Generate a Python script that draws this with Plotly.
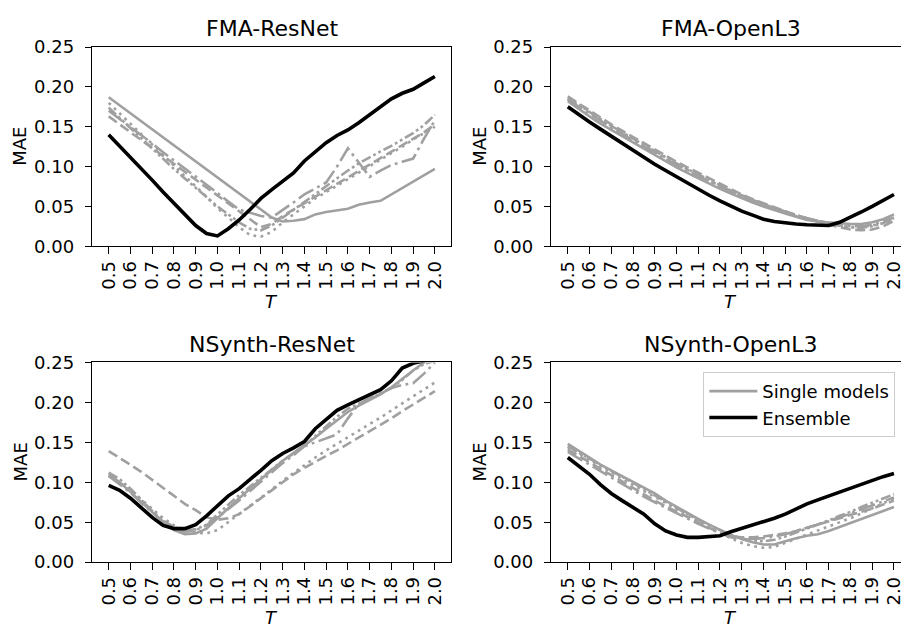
import plotly.graph_objects as go

# ---------------- data ----------------
T = [0.5, 0.55, 0.6, 0.65, 0.7, 0.75, 0.8, 0.85, 0.9, 0.95, 1.0, 1.05, 1.1, 1.15, 1.2, 1.25,
     1.3, 1.35, 1.4, 1.45, 1.5, 1.55, 1.6, 1.65, 1.7, 1.75, 1.8, 1.85, 1.9, 1.95, 2.0]
x_ticks = [0.5, 0.6, 0.7, 0.8, 0.9, 1.0, 1.1, 1.2, 1.3, 1.4, 1.5, 1.6, 1.7, 1.8, 1.9, 2.0]
x_ticktext = ["0.5", "0.6", "0.7", "0.8", "0.9", "1.0", "1.1", "1.2", "1.3", "1.4", "1.5",
              "1.6", "1.7", "1.8", "1.9", "2.0"]
y_ticks = [0.0, 0.05, 0.10, 0.15, 0.20, 0.25]
panel_titles = ["FMA-ResNet", "FMA-OpenL3", "NSynth-ResNet", "NSynth-OpenL3"]

# FMA-ResNet
fma_resnet_ensemble = [.140, .126, .111, .097, .083, .068, .054, .040, .026, .016, .013, .022, .033, .046, .060, .071,
                       .081, .092, .107, .118, .130, .139, .146, .155, .165, .174, .185, .192, .197, .205, .213]
fma_resnet_m1 = [.187, .177, .167, .157, .147, .137, .127, .117, .107, .097, .087, .077, .066, .056, .046, .036,
                 .031, .032, .034, .040, .043, .045, .047, .052, .055, .057, .065, .074, .082, .090, .097]
fma_resnet_m2 = [.163, .153, .143, .133, .123, .113, .103, .093, .083, .073, .063, .053, .043, .033, .024, .028,
                 .038, .046, .054, .062, .070, .078, .086, .094, .102, .110, .118, .126, .134, .143, .153]
fma_resnet_m3 = [.180, .167, .154, .141, .127, .114, .101, .088, .075, .062, .048, .036, .024, .014, .012, .018,
                 .030, .040, .050, .060, .068, .076, .084, .092, .100, .108, .116, .125, .134, .142, .150]
fma_resnet_m4 = [.170, .160, .149, .139, .129, .118, .108, .098, .087, .077, .067, .056, .046, .042, .038, .036,
                 .045, .055, .065, .072, .080, .100, .123, .105, .087, .095, .102, .106, .110, .135, .158]
fma_resnet_m5 = [.174, .161, .148, .135, .122, .109, .097, .085, .073, .061, .050, .040, .030, .022, .020, .026,
                 .036, .046, .056, .066, .075, .085, .095, .104, .112, .119, .126, .134, .142, .152, .165]

# FMA-OpenL3
fma_openl3_ensemble = [.175, .165, .156, .147, .138, .129, .120, .111, .103, .095, .087, .079, .071, .064, .057, .050,
                       .044, .039, .034, .031, .029, .028, .027, .026, .026, .030, .036, .043, .050, .057, .065]
fma_openl3_m1 = [.182, .172, .163, .154, .146, .138, .130, .122, .114, .106, .099, .092, .085, .078, .072, .066,
                 .060, .055, .050, .045, .041, .037, .033, .031, .030, .029, .028, .028, .030, .034, .040]
fma_openl3_m2 = [.188, .179, .170, .161, .153, .145, .137, .129, .121, .113, .106, .099, .092, .085, .078, .071,
                 .065, .059, .054, .049, .044, .039, .035, .031, .027, .024, .021, .020, .021, .025, .032]
fma_openl3_m3 = [.185, .176, .167, .158, .150, .142, .134, .126, .118, .110, .103, .096, .089, .082, .075, .069,
                 .063, .057, .052, .047, .042, .038, .034, .031, .028, .026, .024, .024, .026, .029, .035]
fma_openl3_m4 = [.184, .175, .166, .157, .149, .141, .133, .125, .117, .109, .102, .095, .088, .081, .075, .069,
                 .063, .058, .053, .048, .043, .039, .035, .032, .029, .027, .025, .025, .027, .031, .036]
fma_openl3_m5 = [.186, .177, .168, .159, .151, .143, .135, .127, .119, .111, .104, .097, .090, .083, .077, .070,
                 .064, .058, .053, .048, .043, .039, .035, .032, .029, .026, .024, .023, .025, .029, .034]

# NSynth-ResNet
nsynth_resnet_ensemble = [.096, .090, .080, .068, .056, .046, .042, .042, .047, .058, .070, .083, .092, .103, .115, .127,
                          .136, .143, .151, .167, .178, .190, .197, .203, .209, .216, .227, .243, .249, .252, .258]
nsynth_resnet_m1 = [.110, .100, .088, .075, .062, .050, .040, .035, .036, .042, .055, .068, .080, .092, .104, .116,
                    .127, .137, .146, .156, .167, .178, .188, .196, .203, .210, .219, .230, .240, .250, .258]
nsynth_resnet_m2 = [.139, .131, .122, .113, .103, .093, .083, .073, .065, .056, .053, .055, .060, .070, .080, .090,
                    .101, .110, .118, .126, .133, .140, .148, .155, .163, .172, .180, .189, .197, .205, .214]
nsynth_resnet_m3 = [.108, .100, .090, .078, .066, .055, .046, .040, .037, .036, .040, .050, .060, .070, .080, .091,
                    .102, .112, .122, .131, .140, .148, .156, .164, .172, .181, .190, .199, .207, .216, .225]
nsynth_resnet_m4 = [.108, .098, .087, .074, .062, .051, .042, .038, .040, .046, .056, .066, .077, .089, .101, .113,
                    .124, .134, .145, .150, .155, .160, .180, .198, .205, .212, .218, .222, .224, .236, .250]
nsynth_resnet_m5 = [.112, .104, .092, .078, .064, .052, .044, .040, .041, .047, .060, .072, .084, .095, .106, .117,
                    .127, .136, .145, .158, .170, .182, .192, .199, .205, .211, .218, .228, .240, .248, .252]

# NSynth-OpenL3
nsynth_openl3_ensemble = [.131, .121, .110, .097, .086, .077, .069, .060, .048, .039, .034, .031, .031, .032, .033, .038,
                          .042, .046, .050, .055, .060, .067, .073, .078, .083, .088, .093, .098, .102, .107, .111]
nsynth_openl3_m1 = [.148, .140, .131, .122, .115, .108, .100, .093, .086, .077, .069, .061, .054, .047, .040, .034,
                    .029, .025, .022, .022, .026, .030, .033, .035, .039, .044, .049, .054, .059, .064, .069]
nsynth_openl3_m2 = [.141, .133, .124, .116, .108, .100, .092, .085, .077, .070, .063, .056, .049, .043, .037, .032,
                    .031, .031, .032, .034, .036, .039, .043, .047, .051, .055, .059, .063, .067, .072, .077]
nsynth_openl3_m3 = [.144, .136, .128, .120, .112, .105, .097, .089, .082, .074, .066, .058, .050, .043, .036, .030,
                    .024, .020, .018, .019, .024, .029, .034, .039, .044, .050, .055, .061, .067, .073, .080]
nsynth_openl3_m4 = [.138, .130, .121, .113, .105, .097, .089, .082, .075, .068, .061, .054, .048, .042, .036, .031,
                    .029, .029, .030, .032, .035, .039, .043, .047, .052, .056, .061, .066, .071, .076, .081]
nsynth_openl3_m5 = [.145, .137, .129, .121, .114, .107, .099, .092, .084, .076, .068, .060, .053, .046, .040, .034,
                    .030, .027, .026, .028, .032, .037, .042, .047, .052, .058, .063, .069, .074, .079, .085]

panels = [
    ([fma_resnet_m1, fma_resnet_m2, fma_resnet_m3, fma_resnet_m4, fma_resnet_m5], fma_resnet_ensemble),
    ([fma_openl3_m1, fma_openl3_m2, fma_openl3_m3, fma_openl3_m4, fma_openl3_m5], fma_openl3_ensemble),
    ([nsynth_resnet_m1, nsynth_resnet_m2, nsynth_resnet_m3, nsynth_resnet_m4, nsynth_resnet_m5], nsynth_resnet_ensemble),
    ([nsynth_openl3_m1, nsynth_openl3_m2, nsynth_openl3_m3, nsynth_openl3_m4, nsynth_openl3_m5], nsynth_openl3_ensemble),
]

# ---------------- style / layout ----------------
W, H = 904, 634
GREY = "#a0a0a0"
FONT = "DejaVu Sans"
dashes = ["solid", "10px,4.5px", "2.8px,4.5px", "17px,4.5px,2.8px,4.5px", "10px,3px,2.8px,3px,2.8px,3px"]

# pixel geometry of the axes boxes (left, right, top, bottom)
left_col = (92.7, 452.7)
right_col = (553.3, 913.0)      # right edge lies beyond the picture
top_row = (37.3, 243.3)
bot_row = (363.5, 570.0)
px_per_T = (left_col[1] - left_col[0]) / 1.65

boxes = [(left_col, top_row), (right_col, top_row), (left_col, bot_row), (right_col, bot_row)]

fig = go.Figure()
layout = dict(
    width=W, height=H, margin=dict(l=0, r=0, t=0, b=0, pad=0),
    plot_bgcolor="white", paper_bgcolor="white",
    font=dict(family=FONT, size=18, color="black"),
    showlegend=True,
)
annotations = []

for i, ((cx, cy), (singles, ens)) in enumerate(zip(boxes, panels)):
    n = "" if i == 0 else str(i + 1)
    xa, ya = "x" + n, "y" + n
    x0 = cx[0] / W
    x1 = min(cx[1], W) / W
    xmax = 0.425 + (min(cx[1], W) - cx[0]) / px_per_T
    clipped = cx[1] > W
    layout["xaxis" + n] = dict(
        domain=[x0, x1], range=[0.425, xmax], anchor=ya,
        tickmode="array", tickvals=x_ticks, ticktext=x_ticktext, tickangle=-90,
        ticks="outside", ticklen=6.4, tickwidth=1.4, tickcolor="black",
        showline=True, linecolor="black", linewidth=1.4, mirror=True,
        showgrid=False, zeroline=False, tickfont=dict(size=18),
        ticklabelstandoff=0, ticklabeloverflow="allow",
    )
    layout["yaxis" + n] = dict(
        domain=[1 - cy[1] / H, 1 - cy[0] / H], range=[0, 0.25], anchor=xa,
        tickmode="array", tickvals=y_ticks, tickformat=".2f",
        ticks="outside", ticklen=6.4, tickwidth=1.4, tickcolor="black",
        showline=True, linecolor="black", linewidth=1.4, mirror=(not clipped),
        showgrid=False, zeroline=False, tickfont=dict(size=18),
        ticklabelstandoff=7,
    )
    for j, s in enumerate(singles):
        fig.add_trace(go.Scatter(
            x=T, y=s, xaxis=xa, yaxis=ya, mode="lines",
            line=dict(color=GREY, width=2.6, dash=dashes[j]),
            name="Single models", legendgroup="single",
            showlegend=(i == 0 and j == 0), hoverinfo="skip"))
    fig.add_trace(go.Scatter(
        x=T, y=ens, xaxis=xa, yaxis=ya, mode="lines",
        line=dict(color="black", width=3.6),
        name="Ensemble", legendgroup="ens",
        showlegend=(i == 0), hoverinfo="skip"))

    xc = (cx[0] + cx[1]) / 2 / W
    annotations.append(dict(
        text=panel_titles[i], x=xc, y=1 - (cy[0] - 19) / H, xref="paper", yref="paper",
        xanchor="center", yanchor="middle", showarrow=False,
        font=dict(size=22)))
    annotations.append(dict(
        text="<i>T</i>", x=xc, y=1 - (cy[1] + 57) / H, xref="paper", yref="paper",
        xanchor="center", yanchor="middle", showarrow=False, font=dict(size=18)))
    annotations.append(dict(
        text="MAE", x=(cx[0] - 72.5) / W, y=1 - (cy[0] + cy[1]) / 2 / H,
        xref="paper", yref="paper", xanchor="center", yanchor="middle",
        textangle=-90, showarrow=False, font=dict(size=18)))

layout["annotations"] = annotations
layout["legend"] = dict(
    x=705.7 / W, y=1 - 373.3 / H, xanchor="left", yanchor="top",
    bgcolor="rgba(255,255,255,0.8)", bordercolor="#cccccc", borderwidth=1,
    font=dict(size=18), tracegroupgap=0, itemwidth=48,
)
fig.update_layout(**layout)
fig.write_html("out.html", config={"displayModeBar": False},
               post_script="document.body.style.margin='0';document.body.style.padding='0';")
